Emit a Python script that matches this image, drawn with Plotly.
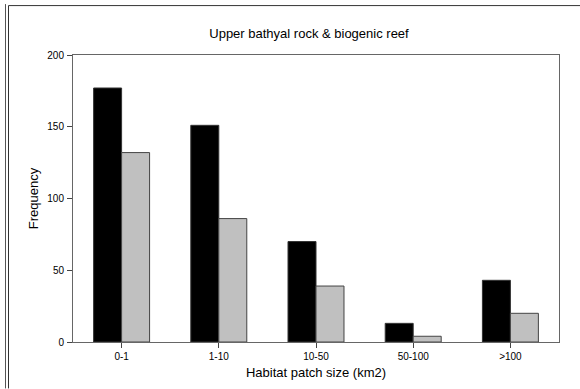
import plotly.graph_objects as go

categories = ["0-1", "1-10", "10-50", "50-100", ">100"]
series_black = [177, 151, 70, 13, 43]
series_grey = [132, 86, 39, 4, 20]
y_ticks = [0, 50, 100, 150, 200]

FONT = "Liberation Sans, Arial, sans-serif"

fig = go.Figure()
fig.add_trace(go.Bar(x=categories, y=series_black, marker=dict(color="#000000", line=dict(color="#333333", width=1)), showlegend=False))
fig.add_trace(go.Bar(x=categories, y=series_grey, marker=dict(color="#c0c0c0", line=dict(color="#444444", width=1)), showlegend=False))

L, R, T, B = 73, 21, 55, 46.5
W, H = 580, 389
pw, ph = W - L - R, H - T - B

def px(x):
    return (x - L) / pw

def py(y):
    return (H - B - y) / ph

fig.update_layout(
    width=W, height=H,
    margin=dict(l=L, r=R, t=T, b=B),
    paper_bgcolor="white", plot_bgcolor="white",
    barmode="group", bargap=0.424, bargroupgap=0,
    font=dict(family=FONT, color="#000000"),
    title=dict(text="Upper bathyal rock & biogenic reef", x=px(309), xref="paper", xanchor="center",
               y=1 - 33 / H, yanchor="middle", font=dict(size=13, family=FONT)),
    xaxis=dict(showline=True, linecolor="#666666", linewidth=1, mirror=True,
               ticks="outside", ticklen=5, tickcolor="#444444",
               tickfont=dict(size=10), showgrid=False,
               title=dict(text="Habitat patch size (km2)", font=dict(size=13), standoff=6)),
    yaxis=dict(range=[0, 200], tickvals=y_ticks, showline=True, linecolor="#666666", linewidth=1, mirror=True,
               ticks="outside", ticklen=5, tickcolor="#444444", ticklabelstandoff=1,
               tickfont=dict(size=10), showgrid=False, zeroline=False,
               title=dict(text="Frequency", font=dict(size=13), standoff=5)),
)

fig.add_shape(type="path", xref="paper", yref="paper",
              path=f"M {px(5.5)},{py(H)} L {px(5.5)},{py(4)}",
              line=dict(color="#555555", width=1))
fig.add_shape(type="path", xref="paper", yref="paper",
              path=f"M {px(8.5)},{py(H)} L {px(8.5)},{py(5.5)} L {px(W)},{py(5.5)}",
              line=dict(color="#333333", width=1))

fig.write_html("out.html")
